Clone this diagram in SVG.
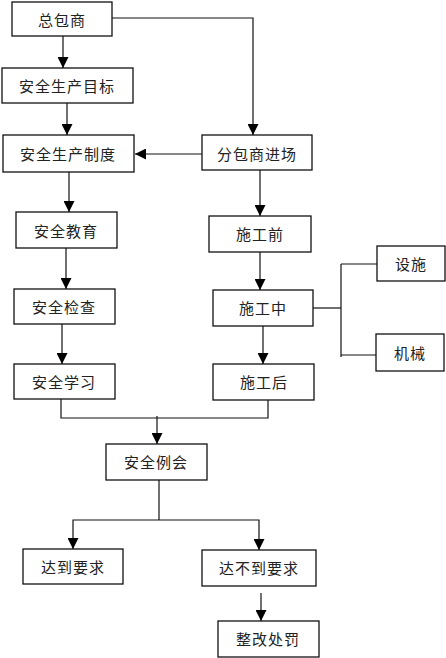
<svg xmlns="http://www.w3.org/2000/svg" width="446" height="658" viewBox="0 0 446 658">
<defs>
<style>
.box{fill:#fff;stroke:#111;stroke-width:1.3}
.t{font-family:"Noto Sans CJK SC","Noto Sans CJK JP",sans-serif;font-size:15px;fill:#222;text-anchor:middle;dominant-baseline:central;letter-spacing:1px}
.ln{fill:none;stroke:#111;stroke-width:1.2}
</style>
<marker id="ah" viewBox="0 0 10 10" refX="10" refY="5" markerWidth="11" markerHeight="11" markerUnits="userSpaceOnUse" orient="auto">
<path d="M0,0 L10,5 L0,10 Z" fill="#000"/>
</marker>
</defs>
<rect width="446" height="658" fill="#fff"/>
<g id="connectors">
<line class="ln" x1="63" y1="36" x2="63" y2="68" marker-end="url(#ah)"/>
<polyline class="ln" points="112,18 253,18 253,135" marker-end="url(#ah)"/>
<line class="ln" x1="67" y1="103" x2="67" y2="135" marker-end="url(#ah)"/>
<line class="ln" x1="202" y1="154" x2="135" y2="154" marker-end="url(#ah)"/>
<line class="ln" x1="69" y1="172" x2="69" y2="212" marker-end="url(#ah)"/>
<line class="ln" x1="66" y1="248" x2="66" y2="289" marker-end="url(#ah)"/>
<line class="ln" x1="62" y1="324" x2="62" y2="364" marker-end="url(#ah)"/>
<line class="ln" x1="260" y1="170" x2="260" y2="216" marker-end="url(#ah)"/>
<line class="ln" x1="260" y1="252" x2="260" y2="290" marker-end="url(#ah)"/>
<line class="ln" x1="263" y1="326" x2="263" y2="364" marker-end="url(#ah)"/>
<polyline class="ln" points="313,308 341,308"/>
<line class="ln" x1="341" y1="264" x2="341" y2="357"/>
<line class="ln" x1="341" y1="264" x2="377" y2="264"/>
<line class="ln" x1="341" y1="355" x2="376" y2="355"/>
<polyline class="ln" points="61,399 61,418 268,418 268,400"/>
<line class="ln" x1="157" y1="416" x2="157" y2="444" marker-end="url(#ah)"/>
<line class="ln" x1="159" y1="480" x2="159" y2="520"/>
<polyline class="ln" points="73,549 73,520 259,520 259,550" marker-end="url(#ah)" marker-start="url(#ahs)"/>
<line class="ln" x1="261" y1="593" x2="261" y2="621" marker-end="url(#ah)"/>
</g>
<defs>
<marker id="ahs" viewBox="0 0 10 10" refX="10" refY="5" markerWidth="11" markerHeight="11" markerUnits="userSpaceOnUse" orient="auto-start-reverse">
<path d="M0,0 L10,5 L0,10 Z" fill="#000"/>
</marker>
</defs>
<g id="n1"><rect class="box" x="12" y="2" width="100" height="34"/><text class="t" x="62" y="19">总包商</text></g>
<g id="n2"><rect class="box" x="2" y="68" width="131" height="35"/><text class="t" x="67" y="85">安全生产目标</text></g>
<g id="n3"><rect class="box" x="3" y="135" width="131" height="37"/><text class="t" x="68" y="153">安全生产制度</text></g>
<g id="n4"><rect class="box" x="202" y="135" width="110" height="35"/><text class="t" x="257" y="153">分包商进场</text></g>
<g id="n5"><rect class="box" x="16" y="212" width="101" height="36"/><text class="t" x="66" y="230">安全教育</text></g>
<g id="n6"><rect class="box" x="14" y="289" width="101" height="35"/><text class="t" x="64" y="306">安全检查</text></g>
<g id="n7"><rect class="box" x="14" y="364" width="101" height="35"/><text class="t" x="64" y="381">安全学习</text></g>
<g id="n8"><rect class="box" x="209" y="216" width="102" height="36"/><text class="t" x="260" y="233">施工前</text></g>
<g id="n9"><rect class="box" x="213" y="290" width="100" height="36"/><text class="t" x="263" y="307">施工中</text></g>
<g id="n10"><rect class="box" x="213" y="364" width="101" height="36"/><text class="t" x="264" y="381">施工后</text></g>
<g id="n11"><rect class="box" x="377" y="246" width="68" height="35"/><text class="t" x="411" y="263">设施</text></g>
<g id="n12"><rect class="box" x="376" y="334" width="68" height="37"/><text class="t" x="410" y="352">机械</text></g>
<g id="n13"><rect class="box" x="106" y="444" width="101" height="36"/><text class="t" x="156" y="461">安全例会</text></g>
<g id="n14"><rect class="box" x="23" y="549" width="100" height="35"/><text class="t" x="73" y="566">达到要求</text></g>
<g id="n15"><rect class="box" x="202" y="550" width="114" height="36"/><text class="t" x="259" y="567">达不到要求</text></g>
<g id="n16"><rect class="box" x="218" y="621" width="101" height="36"/><text class="t" x="268" y="638">整改处罚</text></g>
</svg>
